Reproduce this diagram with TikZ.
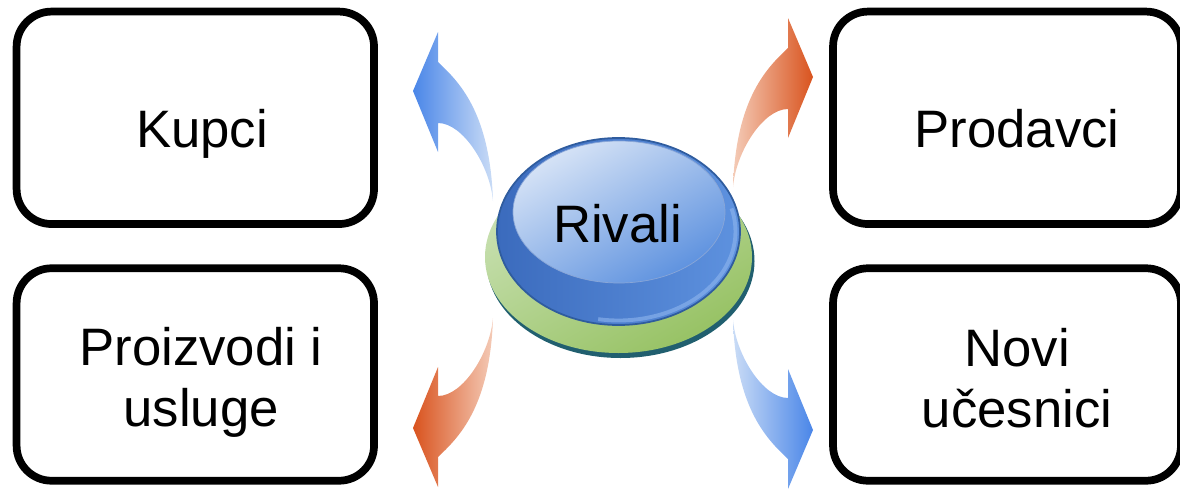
\documentclass[tikz,border=0pt]{standalone}
\usepackage{fontspec}
\setmainfont{Liberation Sans}

\definecolor{arrowblue}{HTML}{4A86E8}
\definecolor{arrowbluepale}{HTML}{CADCF6}
\definecolor{arrowred}{HTML}{D9531E}
\definecolor{arrowredpale}{HTML}{F4CBB7}
\definecolor{rimteal}{HTML}{215F6F}
\definecolor{basegreenhi}{HTML}{CBE2B6}
\definecolor{basegreenlo}{HTML}{97C264}
\definecolor{capdark}{HTML}{3B6BBD}
\definecolor{caplight}{HTML}{5E92DF}
\definecolor{capedge}{HTML}{2F5C9E}
\definecolor{capshine}{HTML}{D6E3F6}
\definecolor{caprim}{HTML}{8FB6EE}

% curved block arrow, tail at the origin, head pointing up and to the left
\newcommand{\flowshape}{(-55,-139) .. controls (-35,-120) and (-3,-90) .. (0,0) .. controls (-3,-35) and (-30,-78) .. (-55,-78) -- (-55,-49) -- (-80,-110) -- (-55,-169) -- cycle}

\begin{document}
\begin{tikzpicture}[x=0.02cm, y=-0.02cm,
	box/.style={rectangle, draw, line width=4.4pt, rounded corners=0.7cm, minimum height=4.25cm},
	label text/.style={font=\fontsize{30}{34.7}\selectfont, anchor=base, align=center, inner sep=0pt},
	flowblue/.style={draw=none},
	flowred/.style={draw=none}]

	\useasboundingbox (0,0) rectangle (1180,490);

	% the four boxes
	\node[box, minimum width=7.15cm] (kupci) at (195.3,117.8) {};
	\node[box, minimum width=6.96cm] (prodavci) at (1007,117.8) {};
	\node[box, minimum width=7.15cm] (proizvodi) at (195.3,374.5) {};
	\node[box, minimum width=6.96cm] (novi) at (1007,374.5) {};
	\node[label text] (kupci text) at (202,147) {Kupci};
	\node[label text] (prodavci text) at (1017,147) {Prodavci};
	\node[label text] (proizvodi text) at (201,426) {Proizvodi i\\usluge};
	\node[label text] (novi text) at (1017,427) {Novi\\učesnici};

	% block arrows
	\shade[flowblue, left color=arrowblue, right color=arrowbluepale, shift={(493,201)}] \flowshape;
	\shade[flowred, left color=arrowredpale, right color=arrowred, shift={(733,187)}, xscale=-1] \flowshape;
	\shade[flowred, left color=arrowred, right color=arrowredpale, shift={(493,318)}, yscale=-1] \flowshape;
	\shade[flowblue, left color=arrowbluepale, right color=arrowblue, shift={(733,320)}, xscale=-1, yscale=-1] \flowshape;

	% the button
	\fill[rimteal] (620.5,261) ellipse (134 and 97);
	\shade[top color=basegreenhi, bottom color=basegreenlo, shading angle=30] (618.5,257) ellipse (133.5 and 96);
	\shade[left color=capdark, right color=caplight, draw=capedge, line width=1pt] (618.5,231.5) ellipse (121.5 and 93.5);
	\draw[caprim, line width=2.2pt, draw opacity=0.6] (618.5,231.5) ++(-15:117 and 89) arc[start angle=-15, end angle=100, x radius=117, y radius=89];
	\shade[top color=capshine, bottom color=caplight, shading angle=30, draw=capdark!60, line width=0.4pt] (619,212) ellipse (106 and 71);
	\node[label text] (rivali) at (617.5,242) {Rivali};
\end{tikzpicture}
\end{document}
